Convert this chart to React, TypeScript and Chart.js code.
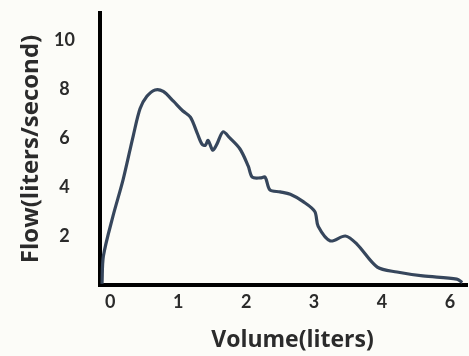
import { useEffect, useRef } from 'react';
import { Chart, registerables } from 'chart.js';

Chart.register(...registerables);

// Flow–volume loop (expiratory part); x positions are in axis units (the last tick reads "6")
const volumePos = [
  -0.12, -0.1, 0.04, 0.19, 0.34, 0.44, 0.54, 0.66, 0.78, 0.93, 1.07, 1.18, 1.28, 1.35,
  1.4, 1.44, 1.51, 1.57, 1.66, 1.76, 1.91, 2.03, 2.09, 2.21, 2.28, 2.35, 2.5, 2.65, 2.84,
  3.01, 3.06, 3.24, 3.46, 3.63, 3.93, 4.22, 4.6, 5.1, 5.18,
];
const flowValues = [
  0.05, 1.18, 2.8, 4.3, 6.1, 7.2, 7.7, 7.96, 7.9, 7.5, 7.1, 6.85, 6.2, 5.75,
  5.7, 5.9, 5.5, 5.75, 6.25, 6.0, 5.55, 4.86, 4.4, 4.37, 4.4, 3.88, 3.8, 3.7, 3.4,
  3.0, 2.4, 1.8, 2.0, 1.67, 0.73, 0.53, 0.37, 0.24, 0.1,
];

const xTickValues = [0, 1, 2, 3, 4, 5];
const xTickLabels = ['0', '1', '2', '3', '4', '6'];
const yTickValues = [2, 4, 6, 8, 10];
const xTitle = 'Volume(liters)';
const yTitle = 'Flow(liters/second)';

const textColor = '#2b2b2b';
const lineColor = '#36465c';
const tickFont = 'Lato, "Open Sans", sans-serif';
const titleFont = '"Open Sans", Lato, sans-serif';

const background = {
  id: 'background',
  beforeDraw(chart: any) {
    const { ctx, width, height } = chart;
    ctx.save();
    ctx.fillStyle = '#fcfcf8';
    ctx.fillRect(0, 0, width, height);
    ctx.restore();
  },
};

// x-axis title, set a little right of the plot centre
const xAxisTitle = {
  id: 'xAxisTitle',
  afterDraw(chart: any) {
    const { ctx, chartArea } = chart;
    ctx.save();
    ctx.font = `bold 23px ${titleFont}`;
    ctx.fillStyle = textColor;
    ctx.textAlign = 'center';
    ctx.textBaseline = 'middle';
    ctx.fillText(xTitle, (chartArea.left + chartArea.right) / 2 + 9, 340);
    ctx.restore();
  },
};

export default function App() {
  const canvasRef = useRef<HTMLCanvasElement | null>(null);

  useEffect(() => {
    const canvas = canvasRef.current;
    if (!canvas) return;
    const chart = new Chart(canvas, {
      type: 'line',
      data: {
        datasets: [
          {
            data: volumePos.map((x, i) => ({ x, y: flowValues[i] })),
            borderColor: lineColor,
            borderWidth: 3.2,
            pointRadius: 0,
            tension: 0.3,
            fill: false,
          },
        ],
      },
      options: {
        animation: false,
        responsive: false,
        maintainAspectRatio: false,
        layout: { padding: { top: 13, right: 2, left: 0, bottom: 0 } },
        plugins: { legend: { display: false }, tooltip: { enabled: false } },
        scales: {
          x: {
            type: 'linear',
            min: -0.15,
            max: 5.25,
            grid: { display: false, drawTicks: false },
            border: { display: true, color: '#000', width: 4 },
            afterBuildTicks: (scale: any) => {
              scale.ticks = xTickValues.map((v) => ({ value: v }));
            },
            afterFit: (scale: any) => {
              scale.height = 71;
              scale.paddingLeft = 0;
              scale.paddingRight = 0;
            },
            ticks: {
              padding: 6,
              color: textColor,
              font: { family: tickFont, size: 18, weight: 'bold' },
              callback: (value: any) => xTickLabels[xTickValues.indexOf(Number(value))],
            },
            title: { display: false },
          },
          y: {
            type: 'linear',
            min: 0,
            max: 11.1,
            grid: { display: false, drawTicks: false },
            border: { display: true, color: '#000', width: 4 },
            afterBuildTicks: (scale: any) => {
              scale.ticks = yTickValues.map((v) => ({ value: v }));
            },
            afterFit: (scale: any) => {
              scale.width = 100;
              scale.paddingTop = 0;
              scale.paddingBottom = 0;
            },
            ticks: {
              padding: 25,
              crossAlign: 'center',
              color: textColor,
              font: { family: tickFont, size: 18, weight: 'bold' },
            },
            title: {
              display: true,
              text: yTitle,
              color: textColor,
              font: { family: titleFont, size: 24, weight: 'bold' },
              padding: { top: 17, bottom: 0 },
            },
          },
        },
      },
      plugins: [background, xAxisTitle],
    } as any);
    return () => chart.destroy();
  }, []);

  return (
    <div style={{ position: 'fixed', left: 0, top: 0, width: 469, height: 356 }}>
      <canvas ref={canvasRef} width={469} height={356} style={{ display: 'block' }} />
    </div>
  );
}
